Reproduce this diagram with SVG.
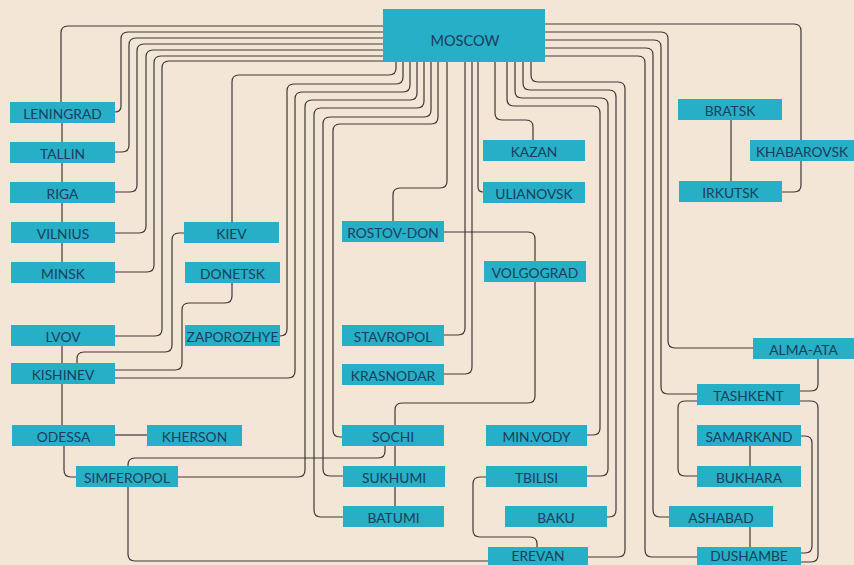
<svg xmlns="http://www.w3.org/2000/svg" width="854" height="565" viewBox="0 0 854 565">
<style>
.bg{fill:#f4e6d6}
.box{fill:#26afc6}
.lbl{font-family:Lato,"Open Sans","DejaVu Sans",sans-serif;font-size:13.8px;fill:#1c3d5c;text-anchor:middle}
.c{fill:none;stroke:#3f3838;stroke-width:1.2}
</style>
<rect class="bg" x="0" y="0" width="854" height="565"/>
<g id="connectors">
<path class="c" d="M383,26 H68 Q61,26 61,33 V102"/>
<path class="c" d="M383,32 H128 Q121,32 121,39 V106 Q121,112 115,112"/>
<path class="c" d="M383,38 H136 Q129,38 129,45 V145 Q129,152 122,152 H115"/>
<path class="c" d="M383,44 H144 Q137,44 137,51 V185 Q137,192 130,192 H115"/>
<path class="c" d="M383,50 H153 Q146,50 146,57 V226 Q146,233 139,233 H115"/>
<path class="c" d="M383,56 H161 Q154,56 154,63 V265 Q154,272 147,272 H115"/>
<path class="c" d="M383,61 H169 Q162,61 162,68 V329 Q162,336 155,336 H115"/>
<path class="c" d="M62,123 V142 M62,163 V182 M62,203 V222 M62,243 V262 M62,346 V363 M62,384 V425"/>
<path class="c" d="M64,446 V470 Q64,477 71,477 H76"/>
<path class="c" d="M115,435 H147"/>
<path class="c" d="M184,233 H179 Q172,233 172,240 V345 Q172,352 165,352 H84 Q77,352 77,359 V363"/>
<path class="c" d="M232,283 V296 Q232,303 225,303 H189 Q182,303 182,310 V363 Q182,370 175,370 H115"/>
<path class="c" d="M396,62 V68 Q396,75 389,75 H239 Q232,75 232,82 V222"/>
<path class="c" d="M403,62 V77 Q403,84 396,84 H294 Q287,84 287,91 V329 Q287,336 280,336"/>
<path class="c" d="M410,62 V85 Q410,92 403,92 H302 Q295,92 295,99 V371 Q295,378 288,378 H115"/>
<path class="c" d="M417,62 V93 Q417,100 410,100 H312 Q305,100 305,107 V470 Q305,477 298,477 H178"/>
<path class="c" d="M424,62 V101 Q424,108 417,108 H321 Q314,108 314,115 V510 Q314,517 321,517 H343"/>
<path class="c" d="M431,62 V110 Q431,117 424,117 H330 Q323,117 323,124 V469 Q323,476 330,476 H343"/>
<path class="c" d="M438,62 V117 Q438,124 431,124 H340 Q333,124 333,131 V430 Q333,437 340,437 H342"/>
<path class="c" d="M447,62 V181 Q447,188 440,188 H400 Q393,188 393,195 V221"/>
<path class="c" d="M444,232 H528 Q535,232 535,239 V261"/>
<path class="c" d="M535,282 V396 Q535,403 528,403 H402 Q395,403 395,410 V425"/>
<path class="c" d="M395,446 V466 M395,487 V506"/>
<path class="c" d="M385,446 V451 Q385,458 378,458 H135 Q128,458 128,465 V466"/>
<path class="c" d="M128,487 V554 Q128,561 135,561 H488"/>
<path class="c" d="M465,62 V328 Q465,335 458,335 H444"/>
<path class="c" d="M472,62 V367 Q472,374 465,374 H444"/>
<path class="c" d="M478,62 V187 Q478,192 483,192"/>
<path class="c" d="M495,62 V113 Q495,120 502,120 H526 Q533,120 533,127 V140"/>
<path class="c" d="M507,62 V99 Q507,106 514,106 H593 Q600,106 600,113 V428 Q600,435 593,435 H587"/>
<path class="c" d="M515,62 V91 Q515,98 522,98 H601 Q608,98 608,105 V469 Q608,476 601,476 H587"/>
<path class="c" d="M523,62 V83 Q523,90 530,90 H609 Q616,90 616,97 V510 Q616,517 609,517 H607"/>
<path class="c" d="M531,62 V75 Q531,82 538,82 H618 Q625,82 625,89 V550 Q625,557 618,557 H588"/>
<path class="c" d="M486,477 H480 Q473,477 473,484 V530 Q473,537 480,537 H530 Q537,537 537,544 V547"/>
<path class="c" d="M545,24 H794 Q801,24 801,31 V185 Q801,192 794,192 H782"/>
<path class="c" d="M545,32 H661 Q668,32 668,39 V341 Q668,348 675,348 H753"/>
<path class="c" d="M545,40 H654 Q661,40 661,47 V387 Q661,394 668,394 H697"/>
<path class="c" d="M545,48 H646 Q653,48 653,55 V510 Q653,517 660,517 H669"/>
<path class="c" d="M545,56 H638 Q645,56 645,63 V550 Q645,557 652,557 H697"/>
<path class="c" d="M731,120 V181"/>
<path class="c" d="M818,359 V384 Q818,391 811,391 H800"/>
<path class="c" d="M800,401 H811 Q818,401 818,408 V555 Q818,562 811,562 H801"/>
<path class="c" d="M801,436 H805 Q812,436 812,443 V546 Q812,553 805,553 H801"/>
<path class="c" d="M697,401 H685 Q678,401 678,408 V469 Q678,476 685,476 H697"/>
<path class="c" d="M750,446 V466 M750,527 V547"/>
</g>
<g id="moscow"><rect class="box" x="383" y="9" width="162" height="53"/><text class="lbl" x="465" y="46" style="font-size:14.5px">MOSCOW</text></g>
<g id="leningrad"><rect class="box" x="10" y="102" width="105" height="21"/><text class="lbl" x="62.5" y="119">LENINGRAD</text></g>
<g id="tallin"><rect class="box" x="10" y="142" width="105" height="21"/><text class="lbl" x="62.5" y="159">TALLIN</text></g>
<g id="riga"><rect class="box" x="10" y="182" width="105" height="21"/><text class="lbl" x="62.5" y="199">RIGA</text></g>
<g id="vilnius"><rect class="box" x="11" y="222" width="104" height="21"/><text class="lbl" x="63" y="239">VILNIUS</text></g>
<g id="minsk"><rect class="box" x="11" y="262" width="104" height="21"/><text class="lbl" x="63" y="279">MINSK</text></g>
<g id="lvov"><rect class="box" x="11" y="325" width="104" height="21"/><text class="lbl" x="63" y="342">LVOV</text></g>
<g id="kishinev"><rect class="box" x="11" y="363" width="104" height="21"/><text class="lbl" x="63" y="380">KISHINEV</text></g>
<g id="odessa"><rect class="box" x="12" y="425" width="103" height="21"/><text class="lbl" x="63.5" y="442">ODESSA</text></g>
<g id="kherson"><rect class="box" x="147" y="425" width="95" height="21"/><text class="lbl" x="194.5" y="442">KHERSON</text></g>
<g id="simferopol"><rect class="box" x="76" y="466" width="102" height="21"/><text class="lbl" x="127" y="483">SIMFEROPOL</text></g>
<g id="kiev"><rect class="box" x="184" y="222" width="95" height="21"/><text class="lbl" x="231.5" y="239">KIEV</text></g>
<g id="donetsk"><rect class="box" x="185" y="262" width="95" height="21"/><text class="lbl" x="232.5" y="279">DONETSK</text></g>
<g id="zaporozhye"><rect class="box" x="185" y="325" width="95" height="21"/><text class="lbl" x="232.5" y="342">ZAPOROZHYE</text></g>
<g id="rostov-don"><rect class="box" x="342" y="221" width="102" height="21"/><text class="lbl" x="393" y="238">ROSTOV-DON</text></g>
<g id="stavropol"><rect class="box" x="342" y="325" width="102" height="21"/><text class="lbl" x="393" y="342">STAVROPOL</text></g>
<g id="krasnodar"><rect class="box" x="342" y="364" width="102" height="21"/><text class="lbl" x="393" y="381">KRASNODAR</text></g>
<g id="sochi"><rect class="box" x="342" y="425" width="102" height="21"/><text class="lbl" x="393" y="442">SOCHI</text></g>
<g id="sukhumi"><rect class="box" x="343" y="466" width="102" height="21"/><text class="lbl" x="394" y="483">SUKHUMI</text></g>
<g id="batumi"><rect class="box" x="343" y="506" width="101" height="21"/><text class="lbl" x="393.5" y="523">BATUMI</text></g>
<g id="kazan"><rect class="box" x="483" y="140" width="102" height="21"/><text class="lbl" x="534" y="157">KAZAN</text></g>
<g id="ulianovsk"><rect class="box" x="483" y="182" width="102" height="21"/><text class="lbl" x="534" y="199">ULIANOVSK</text></g>
<g id="volgograd"><rect class="box" x="484" y="261" width="102" height="21"/><text class="lbl" x="535" y="278">VOLGOGRAD</text></g>
<g id="min-vody"><rect class="box" x="486" y="425" width="101" height="21"/><text class="lbl" x="536.5" y="442">MIN.VODY</text></g>
<g id="tbilisi"><rect class="box" x="486" y="466" width="101" height="21"/><text class="lbl" x="536.5" y="483">TBILISI</text></g>
<g id="baku"><rect class="box" x="505" y="506" width="102" height="21"/><text class="lbl" x="556" y="523">BAKU</text></g>
<g id="erevan"><rect class="box" x="488" y="547" width="100" height="21"/><text class="lbl" x="538" y="561">EREVAN</text></g>
<g id="bratsk"><rect class="box" x="678" y="99" width="104" height="21"/><text class="lbl" x="730" y="116">BRATSK</text></g>
<g id="khabarovsk"><rect class="box" x="750" y="140" width="104" height="21"/><text class="lbl" x="802" y="157">KHABAROVSK</text></g>
<g id="irkutsk"><rect class="box" x="679" y="181" width="103" height="21"/><text class="lbl" x="730.5" y="198">IRKUTSK</text></g>
<g id="alma-ata"><rect class="box" x="753" y="338" width="101" height="21"/><text class="lbl" x="803.5" y="355">ALMA-ATA</text></g>
<g id="tashkent"><rect class="box" x="697" y="384" width="103" height="21"/><text class="lbl" x="748.5" y="401">TASHKENT</text></g>
<g id="samarkand"><rect class="box" x="697" y="425" width="104" height="21"/><text class="lbl" x="749" y="442">SAMARKAND</text></g>
<g id="bukhara"><rect class="box" x="697" y="466" width="104" height="21"/><text class="lbl" x="749" y="483">BUKHARA</text></g>
<g id="ashabad"><rect class="box" x="669" y="506" width="104" height="21"/><text class="lbl" x="721" y="523">ASHABAD</text></g>
<g id="dushambe"><rect class="box" x="697" y="547" width="104" height="21"/><text class="lbl" x="749" y="561">DUSHAMBE</text></g>
</svg>
